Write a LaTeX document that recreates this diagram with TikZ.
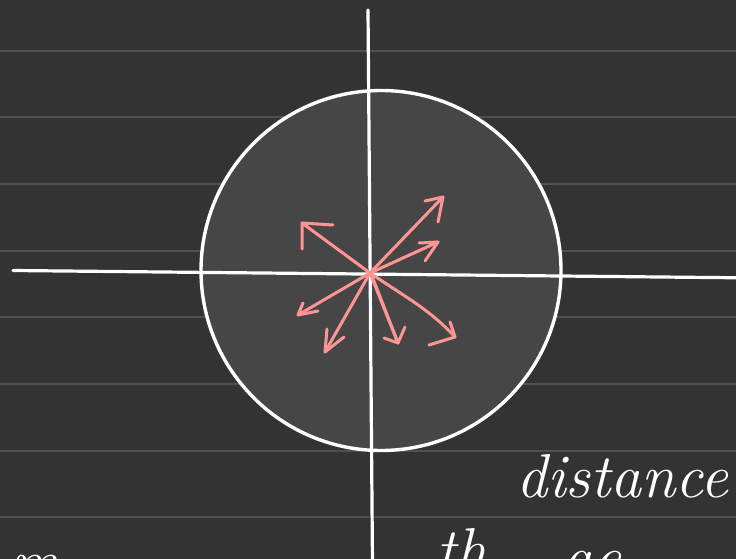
\documentclass[tikz,border=0pt]{standalone}
\usetikzlibrary{calc}
\definecolor{bgc}{HTML}{333333}
\definecolor{rulec}{HTML}{505050}
\definecolor{discc}{HTML}{464646}
\definecolor{pinkc}{HTML}{FF9494}
\tikzset{
  ruled/.style={draw=rulec, line width=1.8pt},
  axis/.style={draw=white, line width=3.2pt, line cap=round},
  disc/.style={draw=white, fill=discc, line width=3.4pt},
  vec/.style={draw=pinkc, line width=3pt, line cap=round, line join=round},
  hand/.style={text=white, font=\fontsize{62}{62}\selectfont\itshape, inner sep=0pt, anchor=base west}
}
\begin{document}
\begin{tikzpicture}[x=1pt, y=-1pt]
\useasboundingbox (0,0) rectangle (736,559);
\clip (0,0) rectangle (736,559);
\fill[bgc] (0,0) rectangle (736,559);
% ruled lines
\foreach \yy in {50.7,117.3,184,250.7,317.3,384,450.7,517.3}
  \draw[ruled] (0,\yy) -- (736,\yy);
% disc
\draw[disc] (381,270.5) circle (180);
% axes
\coordinate (L) at (13,270.5);
\coordinate (R) at (740,277.8);
\coordinate (T) at (368,10);
\coordinate (B) at (372.5,565);
\draw[axis] (L) -- (R);
\draw[axis] (T) -- (B);
% vectors
\coordinate (O) at (370,273);
\coordinate (t1) at (302,223);
\coordinate (t2) at (443,197);
\coordinate (t3) at (438,242);
\coordinate (t4) at (298,315);
\coordinate (t5) at (325,352);
\coordinate (t6) at (398,343);
\coordinate (t7) at (455,337);
\draw[vec] (O) -- (t1);
\draw[vec] (302,249) -- (t1) -- (333,225);
\draw[vec] (O) -- (t2);
\draw[vec] (425,201) -- (t2) -- (438,222);
\draw[vec] (O) -- (t3);
\draw[vec] (419,243) -- (t3) -- (425,261);
\draw[vec] (O) -- (t4);
\draw[vec] (303,303) -- (t4) -- (318,311);
\draw[vec] (O) -- (t5);
\draw[vec] (327,329) -- (t5) -- (344,337);
\draw[vec] (O) -- (t6);
\draw[vec] (O) ++(2,3) -- (t6);
\draw[vec] (384,338) -- (t6) -- (405,327);
\draw[vec] (O) .. controls (410,300) and (430,310) .. (t7);
\draw[vec] (429,345) -- (t7) -- (450,322);
% handwritten text
\node[hand] (w1) at (516,497) {distance};
\node[hand] (w2) at (436,571) {th};
\node[hand] (w3) at (562,578) {ae};
\node[hand] (w4) at (10,582) {m};
\end{tikzpicture}
\end{document}
